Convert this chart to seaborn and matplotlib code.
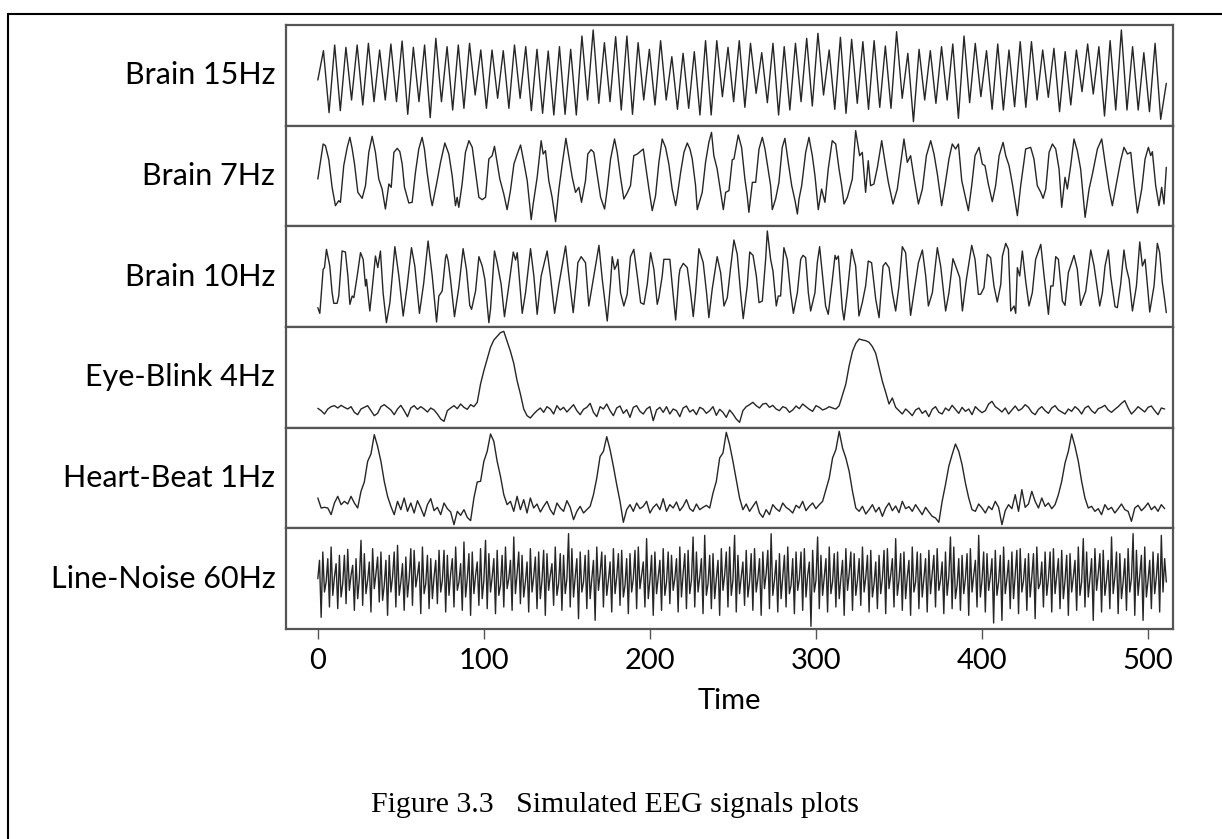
import numpy as np
import matplotlib
matplotlib.use("Agg")
import matplotlib.pyplot as plt
import seaborn as sns
from matplotlib.patches import Rectangle

# ---------------- data ----------------
labels = ["Brain 15Hz", "Brain 7Hz", "Brain 10Hz", "Eye-Blink 4Hz",
          "Heart-Beat 1Hz", "Line-Noise 60Hz"]
x_ticks = [0, 100, 200, 300, 400, 500]
x_label = "Time"
caption = "Figure 3.3   Simulated EEG signals plots"

# Brain 15Hz: successive extrema (evenly spread over samples 0..511)
brain15_v = [-14,
    74, -112, 91, -106, 84, -74, 91, -89, 96, -79, 76, -74, 94, -79, 103, -117, 84, -79, 91, -127,
    111, -79, 86, -104, 91, -99, 96, -59, 76, -99, 76, -69, 74, -99, 91, -69, 86, -106, 78, -114,
    73, -119, 86, -117, 78, -119, 118, -74, 136, -84, 98, -79, 116, -104, 118, -117, 98, -74, 78, -89,
    104, -74, 56, -102, 66, -99, 71, -119, 104, -119, 104, -64, 84,
    -79, 104, -96, 96, -54, 68, -82, 96, -119, 86, -104, 96, -79, 111, -92, 126, -59, 76, -102, 114,
    -114, 108, -84, 101, -102, 104, -96, 88, -99, 131, -69, 66, -139, 78, -74, 74, -84, 86, -74, 94,
    -129, 118, -82, 96, -64, 74, -102, 94, -104, 76, -94, 101, -96, 101, -74, 76, -66, 81, -109, 71,
    -89, 76, -49, 94, -56, 86, -122, 104, -104, 136, -104, 86, -104, 68, -109, 96, -132,
    -24]

# Brain 7Hz: time (samples) and value
brain7_t = [0, 3.2, 4.6, 6.6, 8.6, 10.6, 12.6, 13.6, 15.6, 17.7, 19.3, 20.7, 22.1, 24.1, 26.7, 28.7,
    30.7, 32.7, 34.7, 36.7, 38.7, 40.7, 42.8, 44.2, 45.8, 47.8, 49.4, 50.8, 52.2, 54.8, 56.8, 58.8,
    60.8, 62.8, 64.2, 65.8, 67.9, 68.9, 71.5, 73.9, 76.5, 78.9, 80.9, 82.9, 83.9, 84.9, 86.9, 88.9,
    91.0, 93.0, 95.0, 97.0, 99.0, 101.0, 103.0, 105.0, 106.4, 108.0, 109.6, 112.0, 114.0, 116.0,
    118.1, 120.1, 122.1, 124.1, 126.1, 128.5, 129.7, 132.1, 134.5, 135.7, 137.1, 139.1, 141.1, 143.2,
    145.2, 147.2, 149.4, 151.4, 153.2, 155.2, 157.2, 158.8, 161.2, 162.6, 164.6, 166.2, 168.3, 170.3,
    172.7, 174.3, 176.3, 178.7, 180.3, 182.3, 184.3, 186.3, 188.3, 190.3, 192.4, 196.0, 197.4, 199.4,
    201.4, 203.4, 205.4, 207.4, 209.4, 211.4, 213.4, 215.5, 216.5, 218.5, 220.5, 222.5, 224.1, 225.5,
    227.5, 228.5, 231.5, 233.5, 235.5, 237.1, 238.5, 240.5, 242.6, 244.2, 245.6, 247.6,
    249.6, 250.6, 253.2, 255.2, 257.2, 258.6, 259.6, 261.7, 263.7, 265.7, 267.7, 269.3, 270.7, 272.7,
    273.7, 275.7, 277.7, 279.7, 281.3, 283.3, 285.4, 287.4, 288.8, 289.8, 291.4, 293.8, 295.8, 297.8,
    299.4, 301.4, 303.4, 305.4, 307.4, 309.8, 311.9, 313.9, 315.5, 316.9, 318.9, 321.9, 323.9, 326.3,
    327.9, 329.9, 331.5, 332.9, 334.9, 337.0, 339.6, 341.6, 343.6, 346.4, 349.0, 351.0, 353.0, 355.0,
    357.0, 359.0, 361.7, 364.1, 366.5, 369.1, 371.1, 373.1, 375.7, 377.7, 380.1, 382.1, 384.1, 385.8,
    387.8, 389.8, 391.8, 393.8, 395.8, 398.2, 400.2, 401.8, 403.8, 406.2, 408.2, 410.3, 412.7, 414.3,
    416.3, 418.3, 421.3, 423.3, 426.3, 429.3, 431.3, 433.3, 435.4, 436.8, 438.4, 440.4, 442.4, 444.4,
    446.4, 448.0, 450.0, 451.4, 453.4, 455.4, 457.4, 459.4, 462.1, 464.5, 466.5, 469.5, 472.1, 474.1,
    476.5, 478.5, 480.9, 483.5, 485.5, 487.6, 489.6, 491.6, 493.6, 496.2, 498.2, 500.2, 501.6, 502.6,
    504.6, 506.6, 508.2, 509.6, 511.0]
brain7_v = [-9, 96, 91, 49, -34, -89, -74, -79, 31, 86, 116, 81, 36, -49, -67, -29,
    71, 119, 71, -9, -39, -99, -24, -34, 71, 83, 73, 36, -34, -81, -79, 11,
    81, 116, 81, 11, -64, -89, -24, 41, 99, 66, 1, -89, -64, -94, -24, 71,
    106, 86, 11, -64, -71, -64, 51, 61, 89, 41, -9, -54, -101, -44,
    36, 66, 93, 41, -14, -131, -84, -4, 106, 66, 76, -14, -64, -137,
    -39, 36, 113, 51, -4, -49, -34, -79, -14, 66, 79, 71, 1, -64,
    -99, -39, 51, 111, 71, -4, -69, -51, -29, 61, 66, 81, 31, -39,
    -104, -59, 41, 111, 86, 36, -39, -89, -59, 11, 71, 99, 81, 51,
    -29, -101, -49, 41, 101, 131, 61, 21, -49, -101, -49, -44,
    49, 51, 123, 86, -9, -59, -109, -19, -19, 81, 116, 81, 36, -29,
    -101, -69, -19, 86, 113, 41, -29, -74, -114, -69, -29, 71, 116, 61,
    1, -101, -39, -79, 21, 106, 96, 21, -29, -84, -64, -9, 136, 61,
    71, -49, 46, -29, -24, 26, 106, 41, -19, -84, -39, 36, 111, 41,
    61, -4, -84, -39, 61, 106, 66, 6, -89, -29, 51, 96, 81, 96,
    -14, -59, -104, -29, 61, 86, 36, 31, -24, -77, -29, 61, 101, 61,
    31, -24, -119, -29, 81, 86, 51, -29, -49, -67, -39, 71, 96, 81,
    21, -94, -4, -39, 31, 111, 76, 21, -124, -39, 6, 81, 111, 41,
    -39, -89, -24, 46, 86, 66, 71, -24, -111, -39, 51, 86, 61, 73,
    -29, -89, -34, -84, 26]

# Brain 10Hz: time (samples) and value
brain10_t = [0.0, 1.2, 3.2, 4.0, 5.2, 7.2, 8.6, 9.6, 11.6, 12.6, 14.6, 16.6, 18.1, 19.3, 20.7, 21.7,
    23.7, 25.7, 27.3, 28.7, 29.3, 31.3, 32.7, 34.7, 36.1, 37.7, 39.3, 41.3, 43.4, 46.4, 48.8, 51.4,
    53.8, 56.4, 58.4, 61.2, 63.8, 66.4, 68.9, 71.5, 72.9, 74.9, 76.9, 77.5, 78.5, 79.9, 82.3, 84.9,
    87.5, 89.5, 91.5, 92.6, 95.0, 97.0, 99.0, 100.6, 103.0, 104.0, 106.4, 108.0, 110.4, 112.4, 115.0,
    117.7, 119.1, 120.1, 122.1, 123.1, 125.1, 128.1, 130.1, 132.1, 134.5, 138.1, 140.1, 142.6, 145.2,
    149.2, 151.2, 153.8, 155.8, 156.6, 158.6, 161.2, 163.2, 164.2, 166.2, 169.3, 171.3, 174.3, 176.3,
    177.3, 178.7, 179.9, 180.7, 182.3, 184.3, 186.3, 188.3, 190.3, 192.4, 194.4, 196.4, 198.4, 200.4,
    202.4, 204.4, 205.4, 207.4, 208.4, 210.4, 212.0, 213.4, 215.5, 217.5, 218.1, 220.1, 222.5, 224.5,
    226.1, 227.5, 229.5, 232.1, 234.1, 235.5, 237.5, 240.5, 242.6, 244.6, 246.6, 248.6,
    250.6, 252.6, 254.6, 256.2, 258.6, 260.1, 262.1, 264.1, 265.7, 267.7, 269.7, 270.7, 272.7, 274.1,
    276.1, 277.3, 278.7, 280.7, 282.7, 284.7, 286.4, 288.8, 290.8, 292.2, 293.8, 295.4, 296.8, 299.4,
    300.8, 302.2, 303.8, 305.8, 307.4, 309.8, 311.5, 312.3, 313.5, 315.9, 316.9, 318.9, 321.5, 323.9,
    325.9, 327.9, 329.9, 331.5, 333.5, 336.0, 338.0, 340.4, 342.0, 344.0, 346.0, 348.0, 350.0, 352.0,
    354.0, 357.0, 359.0, 361.7, 364.1, 366.1, 367.7, 370.1, 373.1, 375.1, 378.1, 380.1, 382.5, 384.5,
    386.6, 388.2, 390.6, 393.8, 395.8, 397.8, 399.2, 401.2, 403.2, 405.2, 407.2, 409.2, 411.3, 412.3,
    414.3, 415.9, 417.3, 419.3, 420.3, 421.3, 422.7, 424.3, 426.3, 428.3, 430.3, 432.3, 435.4, 437.4,
    440.0, 441.4, 442.8, 444.4, 446.0, 448.4, 450.0, 452.0, 455.4, 457.4, 459.4, 462.5, 465.5, 467.5,
    470.9, 472.5, 474.1, 476.1, 477.5, 480.1, 481.5, 483.5, 485.5, 486.9, 488.6, 490.6, 493.0, 495.0,
    496.6, 498.2, 500.2, 501.0, 503.6, 505.6, 507.0, 508.6, 509.6, 511.0]
brain10_v = [-93, -110, 22, 27, 82, 32, -48, -80, -80, -58, 77, 74, 2, -83, -58, -63,
    2, 72, 52, -28, -8, -103, -38, 62, 27, 77, -48, -138, -78, 90, 2, -118,
    -28, 87, 32, -110, -18, 107, 2, -136, -58, -43, 57, 67, 47, -8, -120, -33,
    84, 22, -86, -98, -43, 60, 32, -8, -138, -98, 77, 42, -23, -120, -28,
    74, 50, 72, -48, -110, -48, 84, 2, -113, 2, 77, 2, -110, -23,
    92, 2, -108, -8, 42, 60, 42, -88, -58, 2, 94, -8, -133, -18,
    60, 22, 34, 52, -48, -88, -53, 60, 82, 2, -78, -83, -23, 72,
    22, -83, -63, 2, 52, 52, 52, -23, -130, 2, 22, 40, 27, -48,
    -120, -48, 84, 42, -48, -123, -38, 60, 12, -88, -63, 27,
    110, 67, -48, -126, -28, 74, 64, 2, -78, -73, 52, 137, 52, 17,
    -88, -58, -58, 87, 52, -48, -110, -48, 52, 64, 57, -48, -103, -48,
    42, 90, 12, -88, -113, -13, 64, 52, 62, -98, -130, -48, 82, 32,
    -118, -78, -28, 47, 42, -68, -123, 32, 42, 27, -48, -103, -28, 90,
    72, -116, -48, 42, 80, 2, -88, -48, 87, 32, -103, -48, 54, 27,
    -3, -103, -8, 94, 52, -53, -53, -33, 67, 57, -28, -76, -23, 62,
    100, 82, -103, -88, -110, 27, 2, 77, -13, -88, -48, 52, 97, 2,
    -113, -28, -28, 60, 52, -73, -86, 12, 64, 22, -86, -43, 80, 32,
    -88, -48, 32, 80, 2, -90, -93, -23, 80, 27, -8, -103, -28, 104,
    32, 52, -58, -106, -28, 100, 72, -18, -53, -108]

# Eye-Blink 4Hz: one value every 2 samples (0, 2, ..., 510)
eye_v = [-93, -100, -110, -95, -88, -85, -92, -84, -90, -95, -88,
    -105, -112, -95, -90, -85, -100, -115, -108, -88, -82,
    -90, -98, -112, -95, -84, -100, -118, -92, -85, -96,
    -88, -95, -104, -92, -98, -110, -125, -132, -100, -92,
    -85, -94, -80, -90, -96, -82, -88,
    -75, -20, 20, 55, 90, 112, 123, 134, 138, 108, 78, 42, -10, -50, -95, -115, -122, -110,
    -100, -92, -105, -88, -95, -110, -85, -98, -90, -104, -93, -82, -100, -112, -96,
    -90, -78, -105, -118, -88, -95, -80, -100, -115, -92, -86, -108, -97, -120, -90, -85, -102, -110, -95, -88,
    -130, -98, -90, -105, -88, -110, -95, -100, -118, -92, -86, -104, -97, -112, -90, -95, -108, -100, -88, -114,
    -96, -105, -120, -98, -110,
    -125, -135, -100, -88, -82, -75, -85, -92, -80, -78,
    -90, -84, -95, -100, -88, -92, -105, -98, -86, -94, -80, -88, -96, -102, -85, -90, -98, -94, -88, -92,
    -95, -85, -53, -20, 35, 78, 102, 115, 112, 110, 105, 92, 72, 30, -12, -45, -80, -62, -90,
    -100, -110, -95, -104, -115, -98, -92, -108, -100, -118, -96, -88, -105, -110, -92, -100, -84, -96, -108, -90,
    -102, -95, -112, -88, -98, -106,
    -100, -80, -72, -88, -95, -104, -92, -110, -98, -86, -100, -94, -82, -90, -105, -112, -96, -88, -100, -108,
    -92, -85, -98, -104, -110,
    -95, -102, -88, -96, -110, -92, -86, -100, -108, -94, -90, -84, -98, -105, -96, -88, -78, -70, -92, -110,
    -100, -88, -96, -104, -90, -86, -100, -112, -92, -95]

# Heart-Beat 1Hz: one value every 2 samples (0, 2, ..., 510)
heart_v = [-60, -90, -88, -90, -110, -75, -55, -80, -70, -78, -55, -75,
    -90, -40, -12, 50, 72, 130, 95, 50, -10, -55, -85,
    -110, -70, -95, -60, -100, -75, -105, -68, -90, -115, -80, -62, -98, -88, -110, -75, -92, -102,
    -140, -100, -112, -95, -118, -128,
    -60, -12, -10, 50, 80, 132, 110, 50, 5, -50, -80,
    -70, -100, -55, -95, -65, -105, -60, -90, -78, -102, -85, -70, -95, -110, -75, -90, -100, -68,
    -88, -125, -100, -85, -105, -95,
    -85, -50, 0, 65, 80, 124, 85, 35, -20, -70, -133,
    -95, -80, -100, -75, -92, -85, -70, -105, -88, -78, -95, -62, -100, -80, -90, -72, -98, -85,
    -65, -92, -100, -78, -95, -88, -82,
    -90, -45, -10, 60, 75, 137, 100, 50, -5, -60, -95,
    -78, -100, -85, -70, -105, -118, -95, -110, -80, -92, -100, -75, -88, -95, -105, -82, -90, -70,
    -98, -85, -75, -92, -80,
    -70, -35, 0, 60, 85, 140, 90, 60, 20, -40, -90,
    -100, -85, -108, -95, -80, -102, -88, -115, -90, -75, -98, -84, -104, -70, -92, -86, -100, -80,
    -95, -110, -88, -102, -115, -120,
    -133, -70, -20, 35, 70, 102, 80, 40, -15, -60, -95,
    -100, -78, -90, -105, -85, -95, -70, -88, -140, -98, -80, -92, -50, -100, -35, -88, -78, -40,
    -70, -90, -60, -85, -75, -92,
    -80, -50, -10, 45, 80, 132, 95, 50, -10, -60, -90,
    -85, -100, -92, -110, -80, -95, -88, -105, -92, -78, -95, -100, -130, -90, -82, -98, -88, -75,
    -95, -85, -100, -80, -92]

# Line-Noise 60Hz: one value per sample (0..511)
line_v = [0, 55, -116, 80, -40, -10, 60, -85, 95, -50, 5, 45, -90, 70, -55, -15, 70, -75, 88, -35,
    10, 40, -95, 60, -60, 0, 115, -80, 75, -45, -5, 50, -100, 90, -30, 15, 65, -70, 80, -65,
    -20, 55, -110, 70, -40, 5, 80, -85, 100, -50, -10, 45, -95, 65, -55, 0, 90, -80, 85, -25,
    10, 50, -105, 95, -45, -15, 70, -90, 60, -60, 5, 55, -75, 85, -40, -5, 85, -100, 70, -50,
    15, 60, -85, 95, -35, -10, 45, -95, 110, -55, 0, 75, -110, 80, -45, 10, 50, -80, 90, -60,
    -5, 115, -90, 75, -40, 5, 60, -105, 85, -50, -20, 70, -85, 95, -30, 0, 55, -95, 125, -45,
    15, 80, -75, 70, -55, -10, 50, -100, 90, -40, 5, 65, -90, 80, -60, -5, 85, -110, 75, -35,
    10, 45, -80, 95, -50, -15, 75, -95, 70, -45, 0, 135, -85, 90, -55, 5, 60, -120, 80, -40,
    -10, 70, -90, 85, -60, 0, 55, -125, 95, -35, 15, 80, -85, 70, -50, -5, 50, -100, 90, -45,
    5, 75, -80, 85, -55, -20, 60, -105, 75, -40, 0, 85, -90, 95, -30, 10, 50, -85, 120, -60,
    -5, 70, -110, 80, -45, 5, 55, -95, 90, -50, -10, 80, -75, 70, -35, 0, 60, -100, 95, -55,
    15, 75, -90, 85, -45, -5, 125, -85, 80, -40, 5, 60, -105, 130, -50, -15, 70, -90, 75, -60,
    0, 55, -110, 90, -35, 10, 80, -85, 95, -50, -5, 130, -100, 70, -45, 5, 50, -80, 85, -55,
    -10, 75, -95, 90, -40, 0, 60, -110, 80, -30, 15, 85, -90, 135, -50, -5, 55, -100, 75, -60,
    5, 70, -85, 95, -45, -20, 60, -105, 80, -35, 0, 80, -95, 90, -55, 10, 50, -143, 85, -40,
    -5, 125, -90, 70, -50, 5, 60, -100, 95, -45, -10, 75, -85, 80, -60, 0, 55, -110, 90, -35,
    15, 80, -95, 75, -50, -5, 60, -80, 95, -40, 5, 70, -100, 85, -55, -15, 50, -90, 70, -45,
    0, 85, -105, 90, -30, 10, 60, -85, 120, -50, -5, 75, -95, 80, -60, 5, 55, -110, 95, -40,
    -10, 80, -90, 75, -55, 0, 60, -100, 85, -45, 15, 70, -85, 90, -35, -5, 50, -105, 80, -50,
    5, 125, -90, 95, -60, -20, 60, -95, 70, -45, 0, 75, -110, 90, -40, 10, 55, -85, 130, -55,
    -5, 80, -100, 75, -35, 5, 60, -133, 85, -50, -10, 70, -125, 95, -45, 0, 55, -90, 80, -60,
    15, 85, -105, 90, -40, -5, 60, -95, 75, -55, 5, 75, -120, 95, -30, -15, 50, -85, 80, -50,
    0, 80, -100, 90, -45, 10, 60, -90, 85, -60, -5, 70, -110, 75, -40, 5, 55, -95, 95, -50,
    -10, 120, -85, 80, -55, 0, 60, -125, 90, -35, 15, 75, -100, 85, -50, -5, 55, -90, 125, -45,
    5, 80, -105, 75, -60, -10, 60, -95, 90, -40, 0, 135, -110, 85, -50, 10, 70, -125, 95, -55,
    -5, 55, -90, 80, -45, 5, 75, -100, 130, -40, 60, -10]

# ---------------- figure ----------------
sns.set_theme(style="white")
plt.rcParams["font.family"] = ["Lato", "DejaVu Sans"]

series = [
    (np.linspace(0, 511, len(brain15_v)), brain15_v),
    (brain7_t, brain7_v),
    (brain10_t, brain10_v),
    (np.arange(len(eye_v)) * 2, eye_v),
    (np.arange(len(heart_v)) * 2, heart_v),
    (np.arange(len(line_v)), line_v),
]

fig, axes = plt.subplots(6, 1, sharex=True, figsize=(12.22, 8.39), dpi=100)
fig.subplots_adjust(left=0.234, right=0.96, top=0.9702, bottom=0.2503, hspace=0)

line_color = "#262626"
for ax, lab, (t, v) in zip(axes, labels, series):
    sns.lineplot(x=np.asarray(t, dtype=float), y=np.asarray(v, dtype=float), ax=ax,
                 color=line_color, linewidth=1.0, sort=False, estimator=None)
    ax.set_ylim(-151, 151)
    ax.set_yticks([])
    ax.set_ylabel("")
    for sp in ax.spines.values():
        sp.set_visible(True)
        sp.set_color("#555555")
        sp.set_linewidth(1.6)
    ax.text(-0.012, 0.5, lab, transform=ax.transAxes, ha="right", va="center",
            fontsize=22, color="black")
    ax.tick_params(axis="x", which="both", bottom=False, top=False)

axes[0].set_xlim(-19.2, 515.1)
bax = axes[-1]
bax.set_xticks(x_ticks)
bax.set_xticklabels([str(v) for v in x_ticks])
bax.tick_params(axis="x", bottom=True, direction="out", length=7, width=1,
                color="#555555", labelsize=21, pad=7, labelcolor="black")
bax.set_xlabel(x_label, fontsize=21, labelpad=10, color="black")

fig.text(0.503, 0.040, caption, ha="center", va="center", fontsize=21.5,
         family=["Liberation Serif", "DejaVu Serif"], color="black")

fig.add_artist(Rectangle((8 / 1222, -0.05), 1.2, 1 - 14 / 839 + 0.05,
                         transform=fig.transFigure, fill=False,
                         edgecolor="black", linewidth=1.5))

fig.savefig("out.png", dpi=100)
